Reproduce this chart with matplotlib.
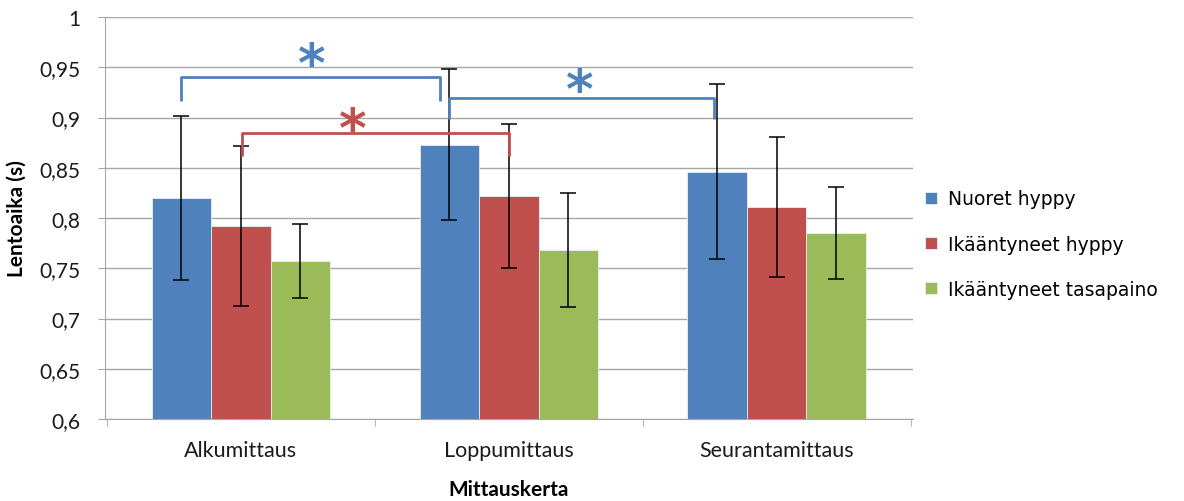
import numpy as np
import matplotlib
matplotlib.use("Agg")
import matplotlib.pyplot as plt

# ========================
# Data
# ========================
categories = ["Alkumittaus", "Loppumittaus", "Seurantamittaus"]
series_names = ["Nuoret hyppy", "Ikääntyneet hyppy", "Ikääntyneet tasapaino"]

nuoret_hyppy = [0.820, 0.873, 0.846]
ikaant_hyppy = [0.792, 0.822, 0.811]
ikaant_tasap = [0.757, 0.768, 0.785]

nuoret_err = [0.082, 0.075, 0.087]
ikaant_hyppy_err = [0.080, 0.072, 0.070]
ikaant_tasap_err = [0.037, 0.057, 0.046]

y_ticks = [0.6, 0.65, 0.7, 0.75, 0.8, 0.85, 0.9, 0.95, 1.0]

# significance brackets: (x_left, x_right, y_top, y_leg_bottom, star_x, star_y, colour)
brackets = [
    (-0.224, 0.743, 0.940, 0.916, 0.265, 0.951, "#4F81BD"),
    (0.776, 1.765, 0.919, 0.899, 1.265, 0.925, "#4F81BD"),
    (0.004, 1.000, 0.885, 0.862, 0.418, 0.887, "#C0504D"),
]

COLORS = ["#4F81BD", "#C0504D", "#9BBB59"]
GRID = "#A6A6A6"

plt.rcParams['font.family'] = ['Lato', 'DejaVu Sans']

fig = plt.figure(figsize=(11.84, 5.02), dpi=100)
ax = fig.add_axes([0.0887, 0.1633, 0.682, 0.8007])

x = np.arange(len(categories))
width = 0.222
values = [nuoret_hyppy, ikaant_hyppy, ikaant_tasap]
errors = [nuoret_err, ikaant_hyppy_err, ikaant_tasap_err]

for i, (vals, errs) in enumerate(zip(values, errors)):
    offs = (i - 1) * width
    ax.bar(x + offs, vals, width, bottom=0, color=COLORS[i], edgecolor="#E8EEF6",
           linewidth=0.6, label=series_names[i], zorder=2)
    ax.errorbar(x + offs, vals, yerr=errs, fmt="none", ecolor="black",
                elinewidth=1.1, capsize=5.5, capthick=1.1, zorder=3)

# significance brackets and stars
for xl, xr, yt, yb, sx, sy, col in brackets:
    ax.plot([xl, xl, xr, xr], [yb, yt, yt, yb], color=col, lw=2,
            solid_joinstyle="round", solid_capstyle="butt", zorder=4, clip_on=False)
    ax.text(sx, sy, "*", color=col, fontsize=38, fontweight="bold",
            ha="center", va="center", family="DejaVu Sans", zorder=5)

ax.set_ylim(0.6, 1.0)
ax.set_xlim(-0.507, 2.507)
ax.set_yticks(y_ticks)
ax.set_yticklabels([f"{v:g}".replace(".", ",") for v in y_ticks])
ax.yaxis.grid(True, color=GRID, lw=1)
ax.set_axisbelow(True)

ax.set_xticks(x)
ax.set_xticklabels(categories)
ax.set_xticks([-0.5, 0.5, 1.5, 2.5], minor=True)
ax.tick_params(axis="x", which="major", length=0, pad=15, labelsize=15.5, labelcolor="#1A1A1A")
ax.tick_params(axis="x", which="minor", length=5, color=GRID)
ax.tick_params(axis="y", length=5, color=GRID, pad=13, labelsize=15, labelcolor="#1A1A1A")

for s in ["top", "right"]:
    ax.spines[s].set_visible(False)
for s in ["left", "bottom"]:
    ax.spines[s].set_color(GRID)

ax.set_ylabel("Lentoaika (s)", fontsize=15, fontweight="bold", labelpad=9)
ax.set_xlabel("Mittauskerta", fontsize=15, fontweight="bold", labelpad=14)

ax.legend(loc="center left", bbox_to_anchor=(0.995, 0.435), frameon=False,
          prop={"family": "DejaVu Sans", "size": 13.5}, handlelength=0.6,
          handleheight=0.6, handletextpad=0.6, labelspacing=1.4)

fig.savefig("out.png", dpi=100)
